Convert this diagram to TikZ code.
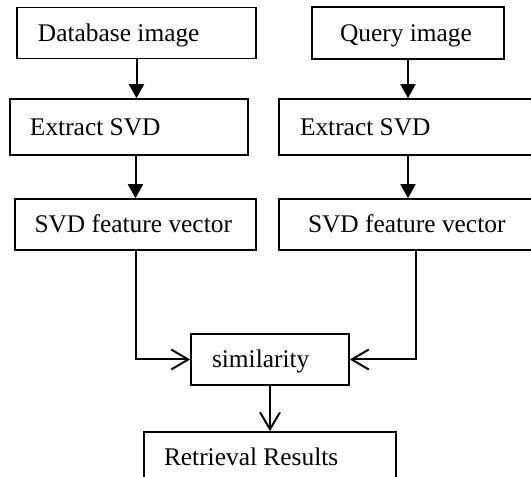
\documentclass[tikz,border=0pt]{standalone}
\usepackage{fontspec}
\setmainfont{Liberation Serif}
\usetikzlibrary{arrows.meta}

\begin{document}
\begin{tikzpicture}[->,>={Triangle[width=7.5pt,length=7pt]},line width=1pt,x=1pt,y=1pt,
                    block/.style={draw,-,line width=0.8pt,align=flush left,inner ysep=0pt,
                                  minimum height=25.5pt,text height=8.4pt,text depth=0pt,
                                  font=\fontsize{12.7}{15}\selectfont},
                    barb/.style={-{Straight Barb[width=10pt,length=8.5pt]}}]
	\useasboundingbox (0,0) rectangle (265.5,238.5);
	\node[block,text width=98.5pt,inner xsep=10.5pt]					(db)	at (68.25,222)				{Database image};
	\node[block,text width=68pt,inner xsep=14pt,minimum height=26pt]		(query)	[node distance=135.75pt,right of = db]	{Query image};
	\node[block,text width=99pt,inner xsep=10pt,minimum height=28pt]		(extl)	[node distance=47pt,below of = db,xshift=-3.75pt]	{Extract SVD};
	\node[block,text width=116pt,inner xsep=10.5pt,minimum height=28pt]	(extr)	[node distance=47pt,below of = query,xshift=4pt]	{Extract SVD};
	\node[block,text width=101pt,inner xsep=9.75pt]					(fvl)	[node distance=48.75pt,below of = extl,xshift=3.25pt]	{SVD feature vector};
	\node[block,text width=108pt,inner xsep=14.5pt]					(fvr)	[node distance=48.75pt,below of = extr]	{SVD feature vector};
	\node[block,text width=58pt,inner xsep=10.5pt]					(sim)	at (135,58.75)				{similarity};
	\node[block,text width=106pt,inner xsep=10pt]					(ret)	[node distance=49pt,below of = sim]	{Retrieval Results};
	\draw	(db.south)		-- (db.south |- extl.north);
	\draw	(fvl.north |- extl.south)	-- (fvl.north);
	\draw	(query.south)		-- (query.south |- extr.north);
	\draw	(query.south |- extr.south)	-- (query.south |- fvr.north);
	\draw[barb]	(fvl.south)	|- (sim.west);
	\draw[barb]	(fvr.south)	|- (sim.east);
	\draw[barb]	(sim.south)	-- (ret.north);
\end{tikzpicture}
\end{document}
